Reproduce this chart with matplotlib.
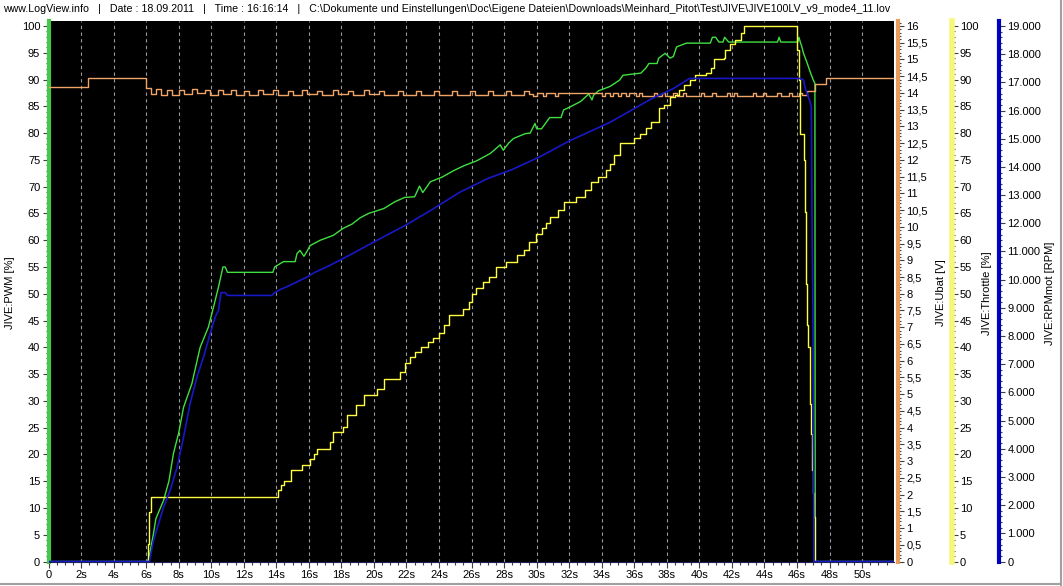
import matplotlib
matplotlib.use("Agg")
import matplotlib.pyplot as plt
from matplotlib.ticker import MultipleLocator, FuncFormatter
from matplotlib.lines import Line2D

plt.rcParams["font.family"] = ["Liberation Sans", "DejaVu Sans"]

HEADER = ("www.LogView.info   |   Date : 18.09.2011   |   Time : 16:16:14   |   "
          "C:\\Dokumente und Einstellungen\\Doc\\Eigene Dateien\\Downloads\\"
          "Meinhard_Pitot\\Test\\JIVE\\JIVE100LV_v9_mode4_11.lov")

# JIVE:PWM [%]  (left axis)
pwm_t = [0, 6.1, 6.2, 6.45, 6.6, 7.07, 7.4, 7.68, 8.0, 8.3, 8.81, 9.32, 9.83, 10.14,
         10.45, 10.72, 10.86, 11.0, 13.79, 13.9, 14.44, 15.16, 15.27, 15.45, 15.7, 15.9,
         16.08, 16.7, 17.5, 18.1, 18.65, 19.16, 19.67, 20.6, 21.3, 21.9, 22.5, 22.8, 23.0,
         23.26, 23.46, 24.2, 24.9, 25.6, 26.3, 27.15, 27.76, 27.95, 28.27, 28.58, 29.3,
         29.6, 29.9, 30.0, 30.3, 30.8, 31.5, 31.65, 32.06, 32.7, 33.2, 33.4, 33.5, 33.8,
         34.5, 35.1, 35.3, 36.4, 36.7, 36.9, 37.4, 37.5, 37.9, 38.2, 38.4, 38.5, 38.6,
         39.2, 40.67, 40.8, 41.0, 41.2, 41.45, 41.55, 41.8, 44.8, 44.9, 45.0, 46.05,
         46.12, 46.2, 46.3, 46.4, 46.6, 46.8, 47.0, 47.1, 47.12, 52.0]
pwm_v = [0, 0, 1.1, 5.2, 8, 11.4, 15, 20.2, 24, 28.8, 33.2, 40, 43.8, 47.5,
         51.3, 55, 55, 54, 54, 55, 56, 56, 57.5, 58.1, 57, 58,
         59, 60, 60.9, 62.2, 63, 64.2, 65, 65.9, 67.2, 68, 68.1, 70.1, 68.9,
         70, 70.9, 71.8, 73, 74, 74.8, 76.2, 77.8, 76.8, 78.1, 79, 79.9,
         80, 81.8, 80.8, 80.8, 82.9, 82.9, 84.3, 84.9, 85.9, 87.3, 86.2, 87.1, 87.9,
         88.7, 89.9, 90.8, 91.2, 92.1, 93, 93, 94, 94.9, 94, 94.3, 95.2, 96.1,
         96.8, 96.8, 97.9, 97.9, 97, 97, 97.9, 97, 97, 97.9, 97, 97,
         97.9, 97, 96.1, 94.9, 93.3, 91.5, 89.9, 89.3, 0, 0]

# JIVE:Ubat [V]
ubat_t = [0.0, 2.4, 6.0, 6.3, 6.6, 6.9, 7.3, 7.6, 8.0, 8.3, 8.8, 9.1, 9.6, 9.9, 10.4,
          10.7, 11.2, 11.5, 12.0, 12.3, 12.9, 13.2, 13.8, 14.1, 14.7, 15.0, 15.6, 15.9,
          16.5, 16.8, 17.5, 17.8, 18.4, 18.7, 19.4, 19.7, 20.3, 20.6, 21.5, 21.8, 22.6,
          22.9, 23.7, 24.0, 24.8, 25.1, 25.9, 26.2, 27.0, 27.3, 28.1, 28.4, 29.2, 29.5,
          29.8, 30.0, 30.4, 30.6, 31.1, 31.3, 34.0, 34.2, 34.5, 34.7, 35.0, 35.2, 35.5,
          35.7, 36.1, 36.3, 36.5, 37.2, 37.4, 37.7, 37.9, 38.4, 38.6, 39.0, 39.2, 40.1,
          40.3, 40.8, 41.0, 41.7, 41.9, 42.1, 42.3, 43.3, 43.5, 43.9, 44.1, 44.8, 45.0,
          45.5, 45.7, 46.1, 46.3, 46.6, 47.1, 47.8, 52.0]
ubat_v = [14.17, 14.45, 14.15, 13.98, 14.12, 13.95, 14.08, 13.95, 14.10, 13.98, 14.12,
          14.00, 14.10, 13.95, 14.08, 13.98, 14.10, 13.95, 14.05, 13.95, 14.10, 13.98,
          14.08, 13.95, 14.05, 13.95, 14.08, 13.98, 14.05, 13.95, 14.08, 13.98, 14.05,
          13.95, 14.08, 13.98, 14.05, 13.95, 14.05, 13.95, 14.05, 13.95, 14.05, 13.95,
          14.05, 13.95, 14.05, 13.95, 14.05, 13.95, 14.05, 13.95, 14.05, 13.98, 13.90,
          14.00, 13.90, 14.00, 13.90, 14.00, 13.90, 14.00, 13.90, 14.00, 13.90, 14.00,
          13.90, 14.00, 13.90, 14.00, 13.90, 14.00, 13.90, 14.00, 13.90, 14.00, 13.90,
          14.00, 13.90, 14.00, 13.90, 14.00, 13.90, 14.00, 13.90, 14.00, 13.90, 14.00,
          13.90, 14.00, 13.90, 14.00, 13.90, 14.00, 13.90, 14.00, 13.95, 14.05, 14.27,
          14.45, 14.45]

# JIVE:Throttle [%]
thr_t = [0, 6.1, 6.2, 6.3, 14.1, 14.3, 14.5, 14.9, 15.6, 16.1, 16.3, 16.5, 17.3, 17.5,
         18.1, 18.35, 18.9, 19.4, 20.2, 20.6, 21.6, 21.9, 22.2, 22.5, 22.9, 23.3, 23.6,
         24.0, 24.3, 24.6, 25.5, 25.85, 26.05, 26.25, 26.7, 27.1, 27.5, 28.1, 28.8, 29.2,
         29.55, 29.95, 30.3, 30.55, 30.85, 31.3, 31.7, 32.4, 32.95, 33.35, 33.75, 34.25,
         34.5, 34.75, 35.1, 36.0, 36.35, 36.7, 37.05, 37.5, 37.85, 38.2, 38.5, 38.75,
         39.05, 39.4, 39.75, 40.4, 40.7, 40.9, 41.5, 41.6, 41.9, 42.2, 42.55, 42.75, 46.0,
         46.1, 46.2, 46.4, 46.5, 46.55, 46.6, 46.7, 46.8, 46.85, 46.95, 47.0, 47.05, 47.1,
         52.0]
thr_v = [0, 3.3, 9.2, 12.1, 13.3, 14.2, 15.1, 17.1, 18.1, 19.2, 20.1, 21.1, 22.3, 24.1,
         25.2, 27.3, 29.2, 31.0, 32.3, 34.1, 35.4, 37.1, 38.2, 39.1, 40.1, 41.0, 41.8,
         42.6, 44.1, 46.0, 47.2, 48.5, 50.0, 51.0, 52.2, 53.1, 55.0, 55.9, 57.2, 58.1,
         59.7, 61.2, 62.2, 63.2, 64.4, 65.6, 67.2, 68.1, 69.3, 70.9, 71.8, 73.1,
         74.3, 75.9, 78.1, 79.0, 79.9, 80.9, 82.1, 84.6, 85.2, 86.8, 87.1, 88.0,
         89.0, 89.9, 90.8, 91.2, 92.1, 93.8, 94.0, 95.5, 96.6, 97.4, 98.6, 100, 95.5,
         89.9, 79.9, 75.0, 65.3, 51.9, 44.1, 40.0, 29.5, 23.9, 17.0, 12.7, 8.3, 0,
         0]

# JIVE:RPMmot [RPM]
rpm_t = [0, 6.2, 6.45, 6.76, 7.07, 7.48, 7.9, 8.3, 8.7, 9.12, 9.53, 9.94, 10.25, 10.45,
         10.6, 10.86, 11.0, 13.73, 13.9, 14.24, 14.65, 15.27, 15.88, 16.3, 17.3, 18.5,
         20.2, 22.0, 23.5, 25.3, 27.0, 28.5, 30.2, 32.0, 34.5, 36.0, 37.0, 38.4, 39.4,
         46.2, 46.4, 46.5, 46.65, 46.8, 46.88, 46.92, 46.98, 47.0, 47.02, 47.04, 52.0]
rpm_v = [0, 0, 740, 1330, 1920, 2530, 3340, 4410, 5600, 6540, 7260, 8090, 8680, 8910,
         9540, 9540, 9440, 9440, 9540, 9650, 9750, 9920, 10090, 10240, 10510, 10870,
         11400, 11950, 12460, 13110, 13590, 13910, 14360, 14920, 15580, 16070, 16400,
         16780, 17140, 17140, 17080, 16800, 16550, 16320, 16130, 12350, 8800, 4750,
         3230, 0, 0]

W, H = 1063, 586
fig = plt.figure(figsize=(W / 100, H / 100), dpi=100, facecolor="white")


def px_box(x0, y0, x1, y1):
    return [x0 / W, 1 - y1 / H, (x1 - x0) / W, (y1 - y0) / H]


def outward(px):
    return ("outward", px * 72 / 100)


AX_LEFT, AX_RIGHT = 48.5, 893.5
AX_TOP, AX_ZERO, AX_FULL = 21, 561.5, 26
top_frac = (AX_ZERO - AX_TOP) / (AX_ZERO - AX_FULL)

ax = fig.add_axes(px_box(AX_LEFT, AX_TOP, AX_RIGHT, AX_ZERO))
ax.set_facecolor("black")
ax.set_xlim(0, 51.93)
ax.set_ylim(0, 100 * top_frac)

ax.xaxis.set_major_locator(MultipleLocator(2))
ax.xaxis.set_minor_locator(MultipleLocator(0.5))
ax.xaxis.set_major_formatter(FuncFormatter(lambda v, p: "0" if v == 0 else f"{int(round(v))}s"))
ax.xaxis.grid(True, which="major", color="#9a9a9a", ls=(0, (3, 3)), lw=0.8)
ax.yaxis.set_major_locator(MultipleLocator(5))
ax.yaxis.set_minor_locator(MultipleLocator(1))
ax.tick_params(axis="both", which="major", length=4, width=0.8, labelsize=8, pad=2,
               color="#404040")
ax.tick_params(axis="both", which="minor", length=2, width=0.8, color="#404040")

for side in ("top", "right"):
    ax.spines[side].set_visible(False)
ax.spines["bottom"].set_color("#202060")
ax.spines["left"].set_color("#46c846")
ax.spines["left"].set_linewidth(3)

ax.plot(pwm_t, pwm_v, color="#3fe03f", lw=1.0, zorder=3)


def right_axis(pos_px, ymax, major, minor, spine_color, spine_lw, fmt):
    a = ax.twinx()
    a.set_ylim(0, ymax * top_frac)
    a.patch.set_visible(False)
    for side in ("left", "top", "bottom"):
        a.spines[side].set_visible(False)
    a.spines["right"].set_position(outward(pos_px - AX_RIGHT))
    a.spines["right"].set_color(spine_color)
    a.spines["right"].set_linewidth(spine_lw)
    a.yaxis.set_major_locator(MultipleLocator(major))
    a.yaxis.set_minor_locator(MultipleLocator(minor))
    a.yaxis.set_major_formatter(FuncFormatter(fmt))
    a.tick_params(axis="y", which="major", length=4, width=0.8, labelsize=8, pad=2,
                  color="#404040")
    a.tick_params(axis="y", which="minor", length=2, width=0.8, color="#404040")
    return a


def fmt_volt(v, p):
    if abs(v - round(v)) < 1e-6:
        return str(int(round(v)))
    return f"{v:.1f}".replace(".", ",")


def fmt_rpm(v, p):
    return f"{int(round(v)):,}".replace(",", ".")


ax_u = right_axis(898, 16, 0.5, 0.1, "#e89c5c", 3, fmt_volt)
ax_t = right_axis(951.5, 100, 5, 1, "#f6f67a", 4, lambda v, p: str(int(round(v))))
ax_r = right_axis(999, 19000, 1000, 200, "#0000c0", 3, fmt_rpm)

ax_u.plot(ubat_t, ubat_v, color="#f0a468", lw=1.0, drawstyle="steps-post", zorder=2)
ax_t.plot(thr_t, thr_v, color="#ffff40", lw=1.0, drawstyle="steps-post", zorder=2)
ax_r.plot(rpm_t, rpm_v, color="#1818c8", lw=1.2, zorder=2)

label_y = 1 - 293 / H
for x_px, txt in [(10, "JIVE:PWM [%]"), (941, "JIVE:Ubat [V]"),
                  (987.5, "JIVE:Throttle [%]"), (1050, "JIVE:RPMmot [RPM]")]:
    fig.text(x_px / W, label_y, txt, rotation=90, ha="center", va="center", fontsize=8)

fig.text(3 / W, 1 - 8.5 / H, HEADER, ha="left", va="center", fontsize=7.7)

# window frame lines
fig.add_artist(Line2D([0, 1061 / W], [1 - 584 / H, 1 - 584 / H], transform=fig.transFigure,
                      color="#a0a0a0", lw=1.5))
fig.add_artist(Line2D([1061 / W, 1061 / W], [0, 1], transform=fig.transFigure,
                      color="#a0a0a0", lw=1.5))

fig.savefig("out.png", dpi=100, facecolor="white")
